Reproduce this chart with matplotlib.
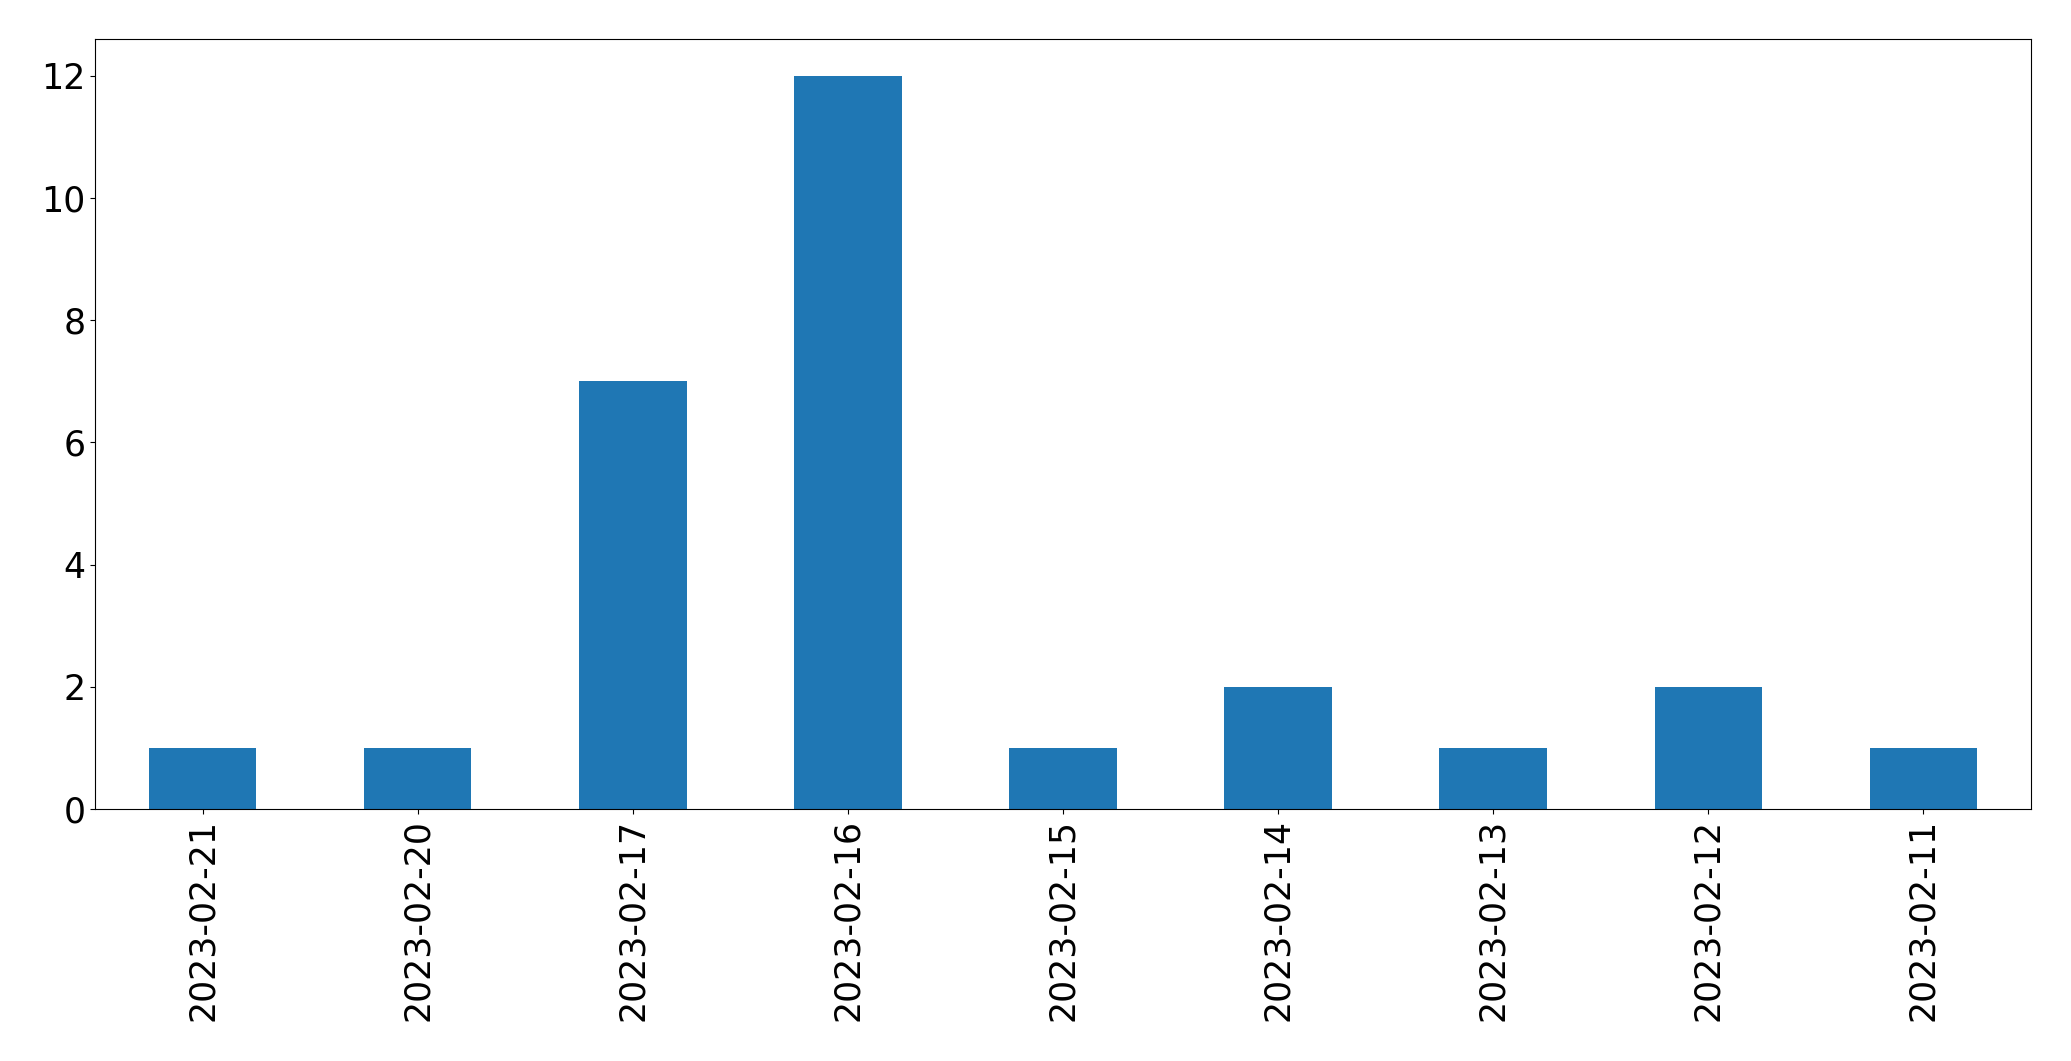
import numpy as np
import matplotlib
matplotlib.use('Agg')
import matplotlib.pyplot as plt

dates = ['2023-02-21', '2023-02-20', '2023-02-17', '2023-02-16', '2023-02-15',
         '2023-02-14', '2023-02-13', '2023-02-12', '2023-02-11']
counts = [1, 1, 7, 12, 1, 2, 1, 2, 1]

plt.rcParams['font.size'] = 25

fig, ax = plt.subplots(figsize=(20.71, 10.61), dpi=100)
x = np.arange(len(dates))
ax.bar(x, counts, width=0.5, color='#1f77b4')
ax.set_xlim(-0.5, len(dates) - 0.5)
ax.set_ylim(0, max(counts) * 1.05)
ax.set_xticks(x)
ax.set_xticklabels(dates, rotation=90)
fig.subplots_adjust(left=95 / 2071, right=2031 / 2071, top=1 - 39 / 1061, bottom=1 - 809 / 1061)
plt.savefig('out.png')
